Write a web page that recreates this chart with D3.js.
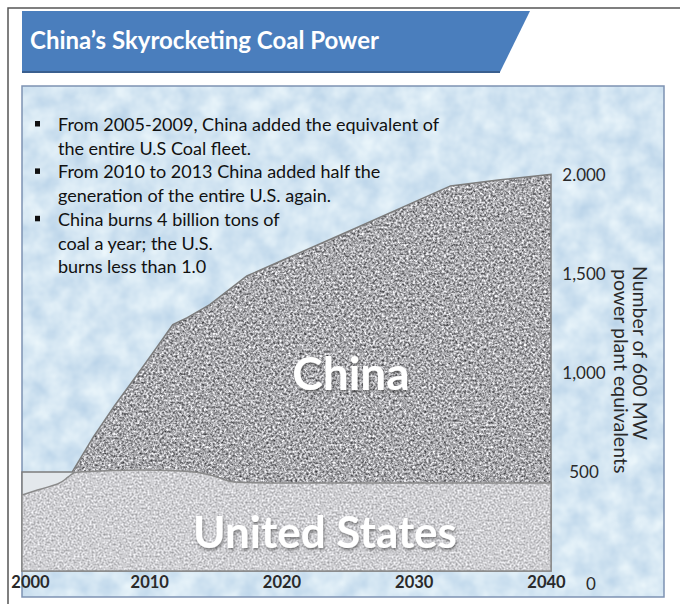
<!DOCTYPE html>
<html>
<head>
<meta charset="utf-8">
<script src="https://cdn.jsdelivr.net/npm/d3@7"></script>
<style>
  body { margin: 0; background: #fff; }
  svg { display: block; }
</style>
</head>
<body>
<svg id="chart" width="680" height="604"></svg>
<script>
// values (number of 600 MW plant equivalents)
var chinaYears  = [2000, 2003.8, 2005.4, 2007, 2008.7, 2010.2, 2011.4, 2012.5, 2014.2, 2017, 2020, 2025, 2032.4, 2036, 2040];
var chinaValues = [500, 500, 677, 835, 990, 1131, 1245, 1280, 1345, 1490, 1578, 1725, 1945, 1975, 2003];

var usYears  = [2000, 2001, 2002, 2003, 2003.5, 2004, 2006, 2009, 2012, 2013, 2014.5, 2016, 2020, 2030, 2040];
var usValues = [384, 405, 425, 450, 475, 498, 505, 510, 505, 500, 480, 450, 444, 444, 444];

var xTicks = [2000, 2010, 2020, 2030, 2040];
var yTicks = [0, 500, 1000, 1500, 2000];
var yTickLabels = ["0", "500", "1,000", "1,500", "2.000"];

var notes = [
  ["From 2005-2009,  China added the equivalent of", "the entire U.S Coal fleet."],
  ["From 2010 to 2013  China added half the", "generation of the entire U.S. again."],
  ["China burns 4 billion tons of", "coal a year; the U.S.", "burns less than 1.0"]
];

var svg = d3.select("#chart");
var defs = svg.append("defs");

// grainy textures for the two areas and the sky
function grain(id, k, b, freq) {
  var f = defs.append("filter").attr("id", id)
    .attr("x", 0).attr("y", 0).attr("width", 1).attr("height", 1)
    .attr("color-interpolation-filters", "sRGB");
  f.append("feTurbulence").attr("type", "fractalNoise")
    .attr("baseFrequency", freq).attr("numOctaves", 2).attr("seed", 7).attr("result", "n");
  f.append("feColorMatrix").attr("in", "n").attr("type", "matrix")
    .attr("values", [k,0,0,0,b, k,0,0,0,b, k,0,0,0,b+0.015, 0,0,0,0,1].join(" "))
    .attr("result", "g");
  f.append("feComposite").attr("in", "g").attr("in2", "SourceAlpha").attr("operator", "in");
}
grain("grainDark", 1.2, 0.06, 0.45);
grain("grainLight", 0.6, 0.51, 0.5);

var sky = defs.append("filter").attr("id", "sky")
  .attr("x", 0).attr("y", 0).attr("width", 1).attr("height", 1)
  .attr("color-interpolation-filters", "sRGB");
sky.append("feTurbulence").attr("type", "fractalNoise")
  .attr("baseFrequency", 0.045).attr("numOctaves", 3).attr("seed", 2).attr("result", "n");
sky.append("feColorMatrix").attr("in", "n").attr("type", "matrix")
  .attr("values", "0.24 0 0 0 0.71  0.17 0 0 0 0.815  0.09 0 0 0 0.905  0 0 0 0 1")
  .attr("result", "c");
sky.append("feComposite").attr("in", "c").attr("in2", "SourceAlpha").attr("operator", "in");

var shadow = defs.append("filter").attr("id", "shadow")
  .attr("x", "-10%").attr("y", "-20%").attr("width", "130%").attr("height", "150%");
shadow.append("feDropShadow").attr("dx", 1).attr("dy", 2).attr("stdDeviation", 1.5)
  .attr("flood-color", "#333").attr("flood-opacity", 0.55);

// slide frame
svg.append("rect").attr("x", 8).attr("y", 8).attr("width", 700).attr("height", 620)
  .attr("fill", "#fff").attr("stroke", "#555").attr("stroke-width", 1.5);

// title banner
svg.append("path").attr("d", "M22,11 L530,11 L500,72 L22,72 Z")
  .attr("fill", "#4a7ebd");
svg.append("path").attr("d", "M22,72 L500,72").attr("stroke", "#3a5f8f").attr("stroke-width", 2);
svg.append("text").attr("x", 30).attr("y", 49)
  .attr("font-family", "Lato, sans-serif").attr("font-weight", 700).attr("font-size", 24)
  .attr("fill", "#fff").text("China\u2019s Skyrocketing Coal Power");

// chart panel
svg.append("rect").attr("x", 22).attr("y", 86).attr("width", 642).attr("height", 511)
  .attr("fill", "#d3e5f1").attr("filter", "url(#sky)");
svg.append("rect").attr("x", 22).attr("y", 86).attr("width", 642).attr("height", 511)
  .attr("fill", "none").attr("stroke", "#7d92b3").attr("stroke-width", 1.5);

var x = d3.scaleLinear().domain([2000, 2040]).range([22, 551]);
var y = d3.scaleLinear().domain([0, 2000]).range([571, 175]);

var china = chinaYears.map(function(d, i) { return {year: d, value: chinaValues[i]}; });
var us = usYears.map(function(d, i) { return {year: d, value: usValues[i]}; });

var area = d3.area()
  .x(function(d) { return x(d.year); })
  .y0(y(0))
  .y1(function(d) { return y(d.value); });

// china: pale before the build-out starts, grainy after
var startYear = chinaYears[1];
defs.append("clipPath").attr("id", "clipPale").append("rect")
  .attr("x", x(2000)).attr("y", 0).attr("width", x(startYear) - x(2000)).attr("height", 604);
defs.append("clipPath").attr("id", "clipDark").append("rect")
  .attr("x", x(startYear)).attr("y", 0).attr("width", x(2040) - x(startYear)).attr("height", 604);

svg.append("path").datum(china).attr("d", area)
  .attr("fill", "#e3e8ec").attr("clip-path", "url(#clipPale)");
svg.append("g").attr("clip-path", "url(#clipDark)")
  .append("path").datum(china).attr("d", area)
  .attr("fill", "#999").attr("filter", "url(#grainDark)");
svg.append("path").datum(china).attr("d", area)
  .attr("fill", "none").attr("stroke", "#7c7c7c").attr("stroke-width", 1.5);

var usArea = d3.area()
  .x(function(d) { return x(d.year); })
  .y0(y(0))
  .y1(function(d) { return y(d.value); })
  .curve(d3.curveMonotoneX);

svg.append("path").datum(us).attr("d", usArea)
  .attr("fill", "#ccc").attr("filter", "url(#grainLight)");
svg.append("path").datum(us).attr("d", usArea)
  .attr("fill", "none").attr("stroke", "#8a8a8a").attr("stroke-width", 1.5);

// area labels
svg.append("text").attr("x", 351).attr("y", 390).attr("text-anchor", "middle")
  .attr("font-family", "Lato, sans-serif").attr("font-weight", 700).attr("font-size", 46)
  .attr("fill", "#fff").attr("filter", "url(#shadow)").text("China");
svg.append("text").attr("x", 325).attr("y", 548).attr("text-anchor", "middle")
  .attr("font-family", "Lato, sans-serif").attr("font-weight", 700).attr("font-size", 44)
  .attr("fill", "#fff").attr("filter", "url(#shadow)").text("United States");

// x axis labels
var xAxis = svg.append("g").attr("transform", "translate(0," + 571 + ")")
  .call(d3.axisBottom(x).tickValues(xTicks).tickFormat(d3.format("d")).tickSize(0).tickPadding(5));
xAxis.select(".domain").remove();
xAxis.selectAll("text")
  .attr("font-family", "Lato, sans-serif").attr("font-size", 16.5).attr("font-weight", 700)
  .attr("fill", "#2a2a2a")
  .attr("dx", function(d) { return d === 2000 ? 8 : -5; });

// right-hand value labels
var yAxis = svg.append("g").attr("transform", "translate(584,0)")
  .call(d3.axisRight(y).tickValues(yTicks)
    .tickFormat(function(d, i) { return yTickLabels[i]; }).tickSize(0).tickPadding(0));
yAxis.select(".domain").remove();
yAxis.selectAll("text")
  .attr("text-anchor", "middle")
  .attr("font-family", "Lato, sans-serif").attr("font-size", 17)
  .attr("fill", "#2a2a2a")
  .attr("dy", function(d) { return d === 0 ? "1.1em" : "0.35em"; })
  .attr("dx", function(d) { return d === 0 ? 7 : 0; });

var yTitle = svg.append("text").attr("transform", "translate(633,266) rotate(90)")
  .attr("font-family", "Lato, sans-serif").attr("font-size", 19.5).attr("fill", "#2a2a2a");
yTitle.append("tspan").attr("x", 0).attr("y", 0).text("Number of 600 MW");
yTitle.append("tspan").attr("x", 3).attr("y", 19).text("power plant equivalents");

// bullet notes
var lineH = 23.7, lineNo = 0;
var notesG = svg.append("g").attr("font-family", "Lato, sans-serif").attr("font-size", 18)
  .attr("fill", "#111");
notes.forEach(function(lines) {
  lines.forEach(function(t, j) {
    var by = 131 + lineNo * lineH;
    if (j === 0) {
      notesG.append("rect").attr("x", 35).attr("y", by - 10).attr("width", 5).attr("height", 5.5)
        .attr("fill", "#111");
    }
    notesG.append("text").attr("x", 58).attr("y", by).text(t);
    lineNo++;
  });
});
</script>
</body>
</html>
